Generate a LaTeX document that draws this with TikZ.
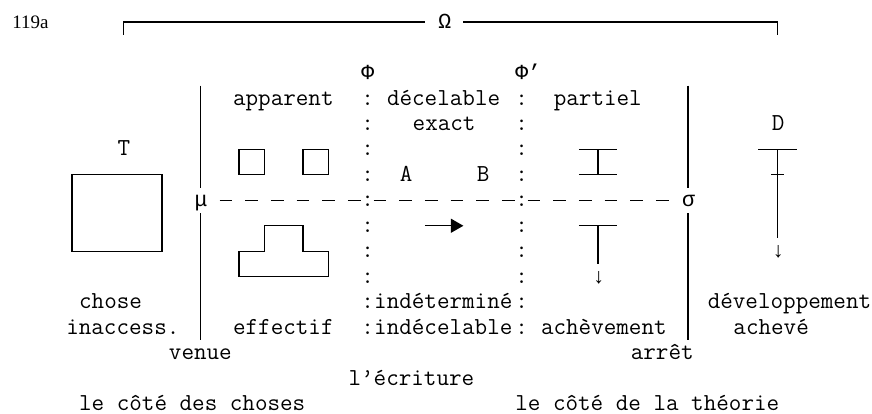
\documentclass[tikz,border=0pt]{standalone}
\usepackage{fontspec}
\newfontfamily\greekmono{Liberation Mono}
\newfontfamily\numfont{Liberation Serif}
\usetikzlibrary{arrows.meta}

\begin{document}
\begin{tikzpicture}[x=12.83pt,y=-25.47pt,line width=1.3pt,
    txt/.style={anchor=base west,inner sep=0pt,yshift=-6.6pt,font=\ttfamily\fontsize{24.4}{25}\selectfont},
    grk/.style={txt,font=\greekmono\fontsize{21.4}{25}\selectfont},
    tick/.style={dash pattern=on 12.83pt off 12.83pt}]
    \useasboundingbox (-0.117,-0.864) rectangle (67.85,15.39);

    \node[txt,font=\numfont\fontsize{19}{20}\selectfont] (num) at (0.8,0) {119a};
    \node[grk] (omega) at (34,0) {Ω};
    \draw (9.5,0.5) |- (33,0);
    \draw (36,0) -| (60.5,0.5);

    \node[grk] (phi) at (28,2) {Φ};
    \node[grk] (phi2) at (40,2) {Φ’};

    \node[txt] (app) at (18,3) {apparent};
    \node[txt] (dec) at (30,3) {décelable};
    \node[txt] (part) at (43,3) {partiel};
    \node[txt] (exact) at (32,4) {exact};
    \node[txt] (D) at (60,4) {D};
    \node[txt] (T) at (9,5) {T};
    \node[txt] (A) at (31,6) {A};
    \node[txt] (B) at (37,6) {B};
    \node[grk] (mu) at (15,7) {μ};
    \node[grk] (sigma) at (53,7) {σ};

    \foreach \r in {3,...,12} {
        \node[txt] (cl\r) at (28,\r) {:};
        \node[txt] (cr\r) at (40,\r) {:};
    }

    % the two walls
    \draw (15.5,2.5) -- (15.5,6.5) (15.5,7.5) -- (15.5,12.5);
    \draw (53.5,2.5) -- (53.5,6.5) (53.5,7.5) -- (53.5,12.5);
    \draw[tick] (17,7) -- (52,7);

    % the thing
    \draw (5.5,6) rectangle (12.5,9);

    % apparent / effectif
    \draw (18.5,5) rectangle (20.5,6);
    \draw (23.5,5) rectangle (25.5,6);
    \draw (20.5,8) -- (23.5,8) -- (23.5,9) -- (25.5,9) -- (25.5,10)
        -- (18.5,10) -- (18.5,9) -- (20.5,9) -- cycle;

    \draw[-{Triangle[length=12.5pt,width=14pt]}] (33,8) -- (36,8);

    % partiel / achevement
    \draw (45,5) -- (48,5) (45,6) -- (48,6) (46.5,5) -- (46.5,6);
    \draw (45,8) -- (48,8) (46.5,8) -- (46.5,9.5);
    \node[grk] (down1) at (46,10) {↓};

    % developpement
    \draw (59,5) -- (62,5) (60.5,5) -- (60.5,8.5) (60,6) -- (61,6);
    \node[grk] (down2) at (60,9) {↓};

    \node[txt] (chose) at (6,11) {chose};
    \node[txt] (indet) at (29,11) {indéterminé};
    \node[txt] (dev) at (55,11) {développement};
    \node[txt] (inacc) at (5,12) {inaccess.};
    \node[txt] (eff) at (18,12) {effectif};
    \node[txt] (indec) at (29,12) {indécelable};
    \node[txt] (ach) at (42,12) {achèvement};
    \node[txt] (achv) at (57,12) {achevé};
    \node[txt] (venue) at (13,13) {venue};
    \node[txt] (arret) at (49,13) {arrêt};
    \node[txt] (ecr) at (27,14) {l’écriture};
    \node[txt] (choses) at (6,15) {le côté des choses};
    \node[txt] (theorie) at (40,15) {le côté de la théorie};
\end{tikzpicture}
\end{document}
